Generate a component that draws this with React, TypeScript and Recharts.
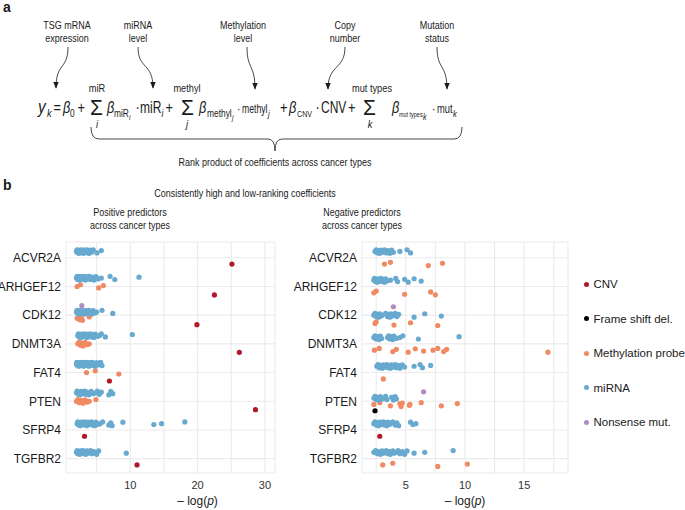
import React from 'react';
import { ScatterChart, Scatter, XAxis, YAxis, CartesianGrid } from 'recharts';

type GeneValues = Record<string, number[]>;

const genes = ['ACVR2A', 'ARHGEF12', 'CDK12', 'DNMT3A', 'FAT4', 'PTEN', 'SFRP4', 'TGFBR2'];
const types = ['CNV', 'Frame shift del.', 'Methylation probe', 'miRNA', 'Nonsense mut.'];
const typeColors = ['#b2182b', '#000000', '#ef8a62', '#67a9cf', '#af8dc3'];
// order of the dodged groups inside a gene row, top to bottom
const dodgeOrder = ['Nonsense mut.', 'miRNA', 'Methylation probe', 'Frame shift del.', 'CNV'];

const posTicks = [5, 10, 15, 20, 25, 30];
const posTickLabels = [10, 20, 30];
const negTicks = [2.5, 5, 7.5, 10, 12.5, 15, 17.5];
const negTickLabels = [5, 10, 15];

// positive predictors, -log(p)
const posCnv: GeneValues = {
  ACVR2A: [25.1], ARHGEF12: [22.5], CDK12: [19.9], DNMT3A: [26.2],
  FAT4: [6.9], PTEN: [28.6], SFRP4: [3.2], TGFBR2: [11.0],
};
const posFrame: GeneValues = {};
const posMeth: GeneValues = {
  ARHGEF12: [2.1, 2.6, 5.3, 6.0],
  CDK12: [2.1, 2.3, 2.5, 2.7, 2.9, 3.9],
  DNMT3A: [2.2, 2.4, 2.6, 2.8, 3.0, 3.3, 3.6, 3.9],
  FAT4: [3.5, 4.8, 8.3],
  PTEN: [2.0, 2.2, 2.4, 2.7, 3.0, 3.3, 3.6, 3.9, 4.9],
};
const posMirna: GeneValues = {
  ACVR2A: [2.0, 2.1, 2.2, 2.3, 2.4, 2.45, 2.6, 2.7, 2.8, 2.9, 3.0, 3.1, 3.2, 3.3, 3.45, 3.55, 3.7, 3.8, 3.9, 4.05, 4.2, 4.3, 4.5, 5.05, 5.7],
  ARHGEF12: [2.0, 2.1, 2.2, 2.3, 2.45, 2.55, 2.7, 2.8, 2.95, 3.1, 3.2, 3.3, 3.45, 3.6, 3.75, 3.9, 4.1, 4.3, 4.6, 4.9, 5.2, 5.7, 7.0, 7.7, 11.3],
  CDK12: [2.0, 2.1, 2.2, 2.3, 2.4, 2.5, 2.65, 2.75, 2.9, 3.0, 3.1, 3.25, 3.4, 3.5, 3.65, 3.8, 3.95, 4.1, 4.3, 4.5, 4.75, 5.0, 5.8, 7.4],
  DNMT3A: [2.2, 2.3, 2.4, 2.55, 2.7, 2.8, 2.95, 3.05, 3.2, 3.3, 3.45, 3.6, 3.7, 3.85, 4.0, 4.1, 4.25, 4.4, 4.6, 4.8, 5.2, 5.45, 5.7, 6.3, 10.3],
  FAT4: [2.0, 2.05, 2.15, 2.25, 2.35, 2.45, 2.55, 2.65, 2.75, 2.85, 2.95, 3.05, 3.15, 3.3, 3.4, 3.5, 3.6, 3.7, 3.85, 3.95, 4.05, 4.2, 4.35, 4.5, 4.65, 4.8, 5.0, 5.2, 5.4, 5.6, 5.8],
  PTEN: [2.0, 2.1, 2.3, 2.4, 2.55, 2.7, 2.8, 3.0, 3.2, 3.35, 3.6, 3.85, 4.2, 4.5, 4.9, 5.1, 5.4, 5.7, 6.8, 7.1, 7.4],
  SFRP4: [2.1, 2.2, 2.35, 2.5, 2.6, 2.75, 2.9, 3.0, 3.15, 3.3, 3.4, 3.55, 3.7, 3.85, 4.0, 4.2, 4.35, 4.5, 4.7, 4.9, 5.2, 5.5, 5.9, 6.8, 7.1, 7.3, 8.9, 13.5, 14.65, 18.1],
  TGFBR2: [2.0, 2.1, 2.2, 2.35, 2.5, 2.6, 2.7, 2.85, 3.0, 3.1, 3.25, 3.4, 3.55, 3.7, 3.9, 4.1, 4.3, 4.6, 5.0, 5.3, 9.4],
};
const posNonsense: GeneValues = { CDK12: [2.8] };

// negative predictors, -log(p)
const negCnv: GeneValues = { SFRP4: [2.8] };
const negFrame: GeneValues = { PTEN: [2.4] };
const negMeth: GeneValues = {
  ACVR2A: [3.2, 3.7, 6.9, 8.1],
  ARHGEF12: [2.3, 2.5, 4.9, 7.1, 7.5],
  CDK12: [2.4, 2.5, 4.0, 5.4, 7.7],
  DNMT3A: [2.35, 2.75, 3.9, 4.2, 5.2, 5.8, 6.5, 7.3, 7.7, 8.2, 8.45, 17.0],
  FAT4: [3.1],
  PTEN: [2.3, 2.8, 3.7, 4.5, 4.6, 4.7, 5.3, 5.35, 6.3, 8.0, 9.35],
  TGFBR2: [3.05, 3.9, 7.7, 10.2],
};
const negMirna: GeneValues = {
  ACVR2A: [2.4, 2.5, 2.6, 2.7, 2.8, 2.9, 3.0, 3.1, 3.2, 3.35, 3.5, 3.65, 3.8, 3.95, 4.5, 5.1, 5.4],
  ARHGEF12: [2.3, 2.35, 2.45, 2.5, 2.6, 2.65, 2.75, 2.8, 2.9, 3.0, 3.1, 3.2, 3.3, 3.4, 3.7, 4.15, 4.3, 4.9, 5.2, 5.7, 6.3],
  CDK12: [2.3, 2.4, 2.5, 2.6, 2.7, 2.8, 2.9, 3.0, 3.3, 3.45, 3.55, 3.65, 3.75, 3.85, 4.0, 4.1, 4.25, 4.4, 5.7, 6.6, 8.0],
  DNMT3A: [2.3, 2.4, 2.5, 2.6, 2.75, 2.85, 2.95, 3.45, 3.55, 3.65, 3.8, 3.9, 4.0, 4.2, 4.5, 4.75, 6.06, 9.5],
  FAT4: [2.55, 2.65, 2.75, 2.85, 3.0, 3.1, 3.2, 3.3, 3.4, 3.5, 3.6, 3.7, 3.8, 3.9, 4.0, 4.1, 4.2, 4.35, 4.5, 4.7, 4.9, 5.7, 6.2, 6.4, 7.1],
  PTEN: [2.3, 2.4, 2.5, 2.6, 2.7, 2.85, 3.0, 3.15, 3.3, 3.4, 3.8, 3.95, 4.1, 4.2],
  SFRP4: [2.3, 2.4, 2.5, 2.6, 2.7, 2.8, 2.9, 3.0, 3.1, 3.2, 3.3, 3.4, 3.5, 3.6, 3.7, 3.9, 4.1, 4.25, 4.4, 5.4, 5.6, 5.85],
  TGFBR2: [2.3, 2.45, 2.6, 2.7, 2.85, 3.0, 3.1, 3.2, 3.35, 3.5, 3.6, 3.7, 3.9, 4.0, 4.2, 4.35, 4.5, 4.7, 4.9, 5.1, 5.7, 6.6, 9.0],
};
const negNonsense: GeneValues = { CDK12: [3.95], PTEN: [6.5] };

// small vertical spread so the dots inside a group don't sit on one line
const jitter = [0, -0.06, 0.05, -0.03, 0.07, -0.05, 0.03];
const dodgeWidth = 0.88;

function buildSeries(panel: GeneValues[]) {
  const out = types.map(() => [] as { x: number; y: number }[]);
  genes.forEach((g, gi) => {
    const present = dodgeOrder.filter((t) => (panel[types.indexOf(t)][g] || []).length > 0);
    const n = present.length;
    present.forEach((t, pi) => {
      const ti = types.indexOf(t);
      const off = (pi - (n - 1) / 2) * (dodgeWidth / n);
      panel[ti][g].forEach((v, k) => out[ti].push({ x: v, y: gi + off + jitter[k % jitter.length] }));
    });
  });
  return out;
}

const posSeries = buildSeries([posCnv, posFrame, posMeth, posMirna, posNonsense]);
const negSeries = buildSeries([negCnv, negFrame, negMeth, negMirna, negNonsense]);

const FONT = "'Liberation Sans', Arial, Helvetica, sans-serif";

const NText = ({ x, y, size, sx = 0.84, anchor = 'start', italic, bold, children }: any) => (
  <text
    transform={`translate(${x},${y}) scale(${sx},1)`}
    fontSize={size}
    textAnchor={anchor}
    fontStyle={italic ? 'italic' : 'normal'}
    fontWeight={bold ? 'bold' : 'normal'}
    fill="#1a1a1a"
  >
    {children}
  </text>
);

const AxisTitle = ({ viewBox, dx }: any) => (
  <text x={viewBox.x + viewBox.width / 2 + dx} y={viewBox.y + 32} textAnchor="middle" fontSize={12} fill="#1a1a1a">
    – log(<tspan fontStyle="italic">p</tspan>)
  </text>
);

const LegendBox = () => (
  <div style={{ position: 'absolute', left: 582, top: 266.75, fontFamily: FONT }}>
    {types.map((t, i) => (
      <div key={t} style={{ height: 34.5, display: 'flex', alignItems: 'center', whiteSpace: 'nowrap' }}>
        <span style={{ display: 'inline-block', width: 5, height: 5, borderRadius: 3, marginLeft: 1.5, background: typeColors[i] }} />
        <span style={{ marginLeft: 5, fontSize: 11.5, color: '#1a1a1a' }}>{t}</span>
      </div>
    ))}
  </div>
);

function Panel({ series, width, yWidth, right, domain, ticks, tickLabels, titleDx }: any) {
  return (
    <ScatterChart width={width} height={280} margin={{ top: 12, right, bottom: 0, left: 0 }}>
      <CartesianGrid stroke="#ebebeb" strokeWidth={1.1} />
      <XAxis
        type="number" dataKey="x" domain={domain} ticks={ticks} allowDataOverflow interval={0}
        tickFormatter={(v: number) => (tickLabels.includes(v) ? String(v) : '')}
        axisLine={false} tickLine={false} height={37}
        tick={{ fontSize: 11, fill: '#333', fontFamily: FONT }}
        label={<AxisTitle dx={titleDx} />}
      />
      <YAxis
        type="number" dataKey="y" domain={[-0.55, 7.5]} reversed ticks={[0, 1, 2, 3, 4, 5, 6, 7]} interval={0}
        tickFormatter={(i: number) => genes[i]} allowDataOverflow
        width={yWidth} axisLine={false} tickLine={false} tickSize={5} tickMargin={0}
        tick={{ fontSize: 12, fill: '#1a1a1a', fontFamily: FONT }}
      />
      {types.map((t, i) => (
        <Scatter
          key={t} name={t} data={series[i]} fill={typeColors[i]} isAnimationActive={false}
          shape={(p: any) => <circle cx={p.cx} cy={p.cy} r={2.6} fill={typeColors[i]} />}
        />
      ))}
    </ScatterChart>
  );
}

export default function App() {
  const arrows = [
    'M68,47 C68,70 56,62 56,88',
    'M138,47 C138,70 153,62 153,88',
    'M247,47 C247,70 255,64 255,89',
    'M345,47 C345,70 328,64 328,89',
    'M437,47 C437,70 447,64 447,89',
  ];
  return (
    <div style={{ position: 'absolute', left: 0, top: 0, width: 685, height: 510, background: '#fff', overflow: 'hidden', fontFamily: FONT }}>
      <svg width={685} height={235} style={{ position: 'absolute', left: 0, top: 0, fontFamily: FONT }}>
        <defs>
          <marker id="arr" viewBox="0 0 10 10" refX="9" refY="5" markerUnits="userSpaceOnUse" markerWidth="7" markerHeight="7" orient="auto">
            <path d="M0,1 L10,5 L0,9 z" fill="#1a1a1a" />
          </marker>
        </defs>
        <text x={3} y={12} fontSize={14} fontWeight="bold" fill="#1a1a1a">a</text>
        <NText x={67} y={28.5} size={10.7} anchor="middle">TSG mRNA</NText>
        <NText x={67} y={42} size={10.7} anchor="middle">expression</NText>
        <NText x={138} y={28.5} size={10.7} anchor="middle">miRNA</NText>
        <NText x={138} y={42} size={10.7} anchor="middle">level</NText>
        <NText x={243} y={28.5} size={10.7} anchor="middle">Methylation</NText>
        <NText x={243} y={42} size={10.7} anchor="middle">level</NText>
        <NText x={345} y={28.5} size={10.7} anchor="middle">Copy</NText>
        <NText x={345} y={42} size={10.7} anchor="middle">number</NText>
        <NText x={437} y={28.5} size={10.7} anchor="middle">Mutation</NText>
        <NText x={437} y={42} size={10.7} anchor="middle">status</NText>
        {arrows.map((d) => (
          <path key={d} d={d} fill="none" stroke="#1a1a1a" strokeWidth={0.8} markerEnd="url(#arr)" />
        ))}

        {/* equation */}
        <NText x={38} y={113} size={18} italic sx={0.85}>y</NText>
        <NText x={47} y={117} size={11} italic>k</NText>
        <NText x={53.5} y={113} size={16} sx={0.8}>=</NText>
        <NText x={63} y={113} size={16} italic sx={0.8}>β</NText>
        <NText x={70} y={117} size={10}>0</NText>
        <NText x={77.5} y={113} size={16} sx={0.8}>+</NText>

        <NText x={90} y={115} size={22} sx={0.95}>Σ</NText>
        <NText x={97} y={92} size={11} anchor="middle">miR</NText>
        <NText x={97} y={128} size={11} anchor="middle" italic>i</NText>
        <NText x={107} y={113} size={16} italic sx={0.8}>β</NText>
        <NText x={114} y={117} size={10.5} sx={0.8}>miR</NText>
        <NText x={129} y={120} size={8} italic>i</NText>
        <NText x={135.5} y={113} size={16} sx={0.8}>·</NText>
        <NText x={140} y={113} size={16} sx={0.75}>miR</NText>
        <NText x={161.5} y={117} size={10} italic>i</NText>
        <NText x={165.5} y={113} size={16} sx={0.8}>+</NText>

        <NText x={181} y={115} size={22} sx={0.95}>Σ</NText>
        <NText x={187} y={92} size={11} anchor="middle">methyl</NText>
        <NText x={187} y={128} size={11} anchor="middle" italic>j</NText>
        <NText x={199} y={113} size={16} italic sx={0.8}>β</NText>
        <NText x={207} y={117} size={10.5} sx={0.8}>methyl</NText>
        <NText x={232} y={120} size={8} italic>j</NText>
        <NText x={237} y={113} size={13} sx={0.8}>·</NText>
        <NText x={242} y={113} size={12} sx={0.72}>methyl</NText>
        <NText x={268} y={117} size={9} italic>j</NText>
        <NText x={280} y={113} size={16} sx={0.8}>+</NText>
        <NText x={289} y={113} size={16} italic sx={0.8}>β</NText>
        <NText x={297} y={117} size={9.5} sx={0.75}>CNV</NText>
        <NText x={315.5} y={113} size={16} sx={0.8}>·</NText>
        <NText x={321} y={113} size={16} sx={0.75}>CNV</NText>
        <NText x={348} y={113} size={16} sx={0.8}>+</NText>

        <NText x={363} y={115} size={22} sx={0.95}>Σ</NText>
        <NText x={372} y={92} size={11} anchor="middle">mut types</NText>
        <NText x={370} y={128} size={11} anchor="middle" italic>k</NText>
        <NText x={392} y={113} size={16} italic sx={0.8}>β</NText>
        <NText x={399} y={117} size={7} sx={0.78}>mut types</NText>
        <NText x={423} y={120} size={8.5} italic>k</NText>
        <NText x={432} y={113} size={13} sx={0.8}>·</NText>
        <NText x={437} y={113} size={13} sx={0.72}>mut</NText>
        <NText x={453} y={117} size={9} italic>k</NText>

        <path d="M91,127 Q91,139 99,139 L268,139 Q275,139 275,151 Q275,139 282,139 L454,139 Q462,139 462,127"
          fill="none" stroke="#1a1a1a" strokeWidth={0.8} />
        <NText x={275} y={166} size={10.7} anchor="middle">Rank product of coefficients across cancer types</NText>

        {/* panel b headings */}
        <text x={3} y={190} fontSize={14} fontWeight="bold" fill="#1a1a1a">b</text>
        <NText x={245} y={196.5} size={10.7} anchor="middle">Consistently high and low-ranking coefficients</NText>
        <NText x={130} y={216} size={10.7} anchor="middle">Positive predictors</NText>
        <NText x={130} y={228.5} size={10.7} anchor="middle">across cancer types</NText>
        <NText x={362} y={216} size={10.7} anchor="middle">Negative predictors</NText>
        <NText x={362} y={228.5} size={10.7} anchor="middle">across cancer types</NText>
      </svg>

      <div style={{ position: 'absolute', left: 0, top: 230 }}>
        <Panel series={posSeries} width={285} yWidth={66} right={10} domain={[0.45, 31.5]}
          ticks={posTicks} tickLabels={posTickLabels} titleDx={27} />
      </div>
      <div style={{ position: 'absolute', left: 290, top: 230 }}>
        <Panel series={negSeries} width={290} yWidth={72} right={12} domain={[1.3, 18.7]}
          ticks={negTicks} tickLabels={negTickLabels} titleDx={0} />
      </div>
      <LegendBox />
    </div>
  );
}
